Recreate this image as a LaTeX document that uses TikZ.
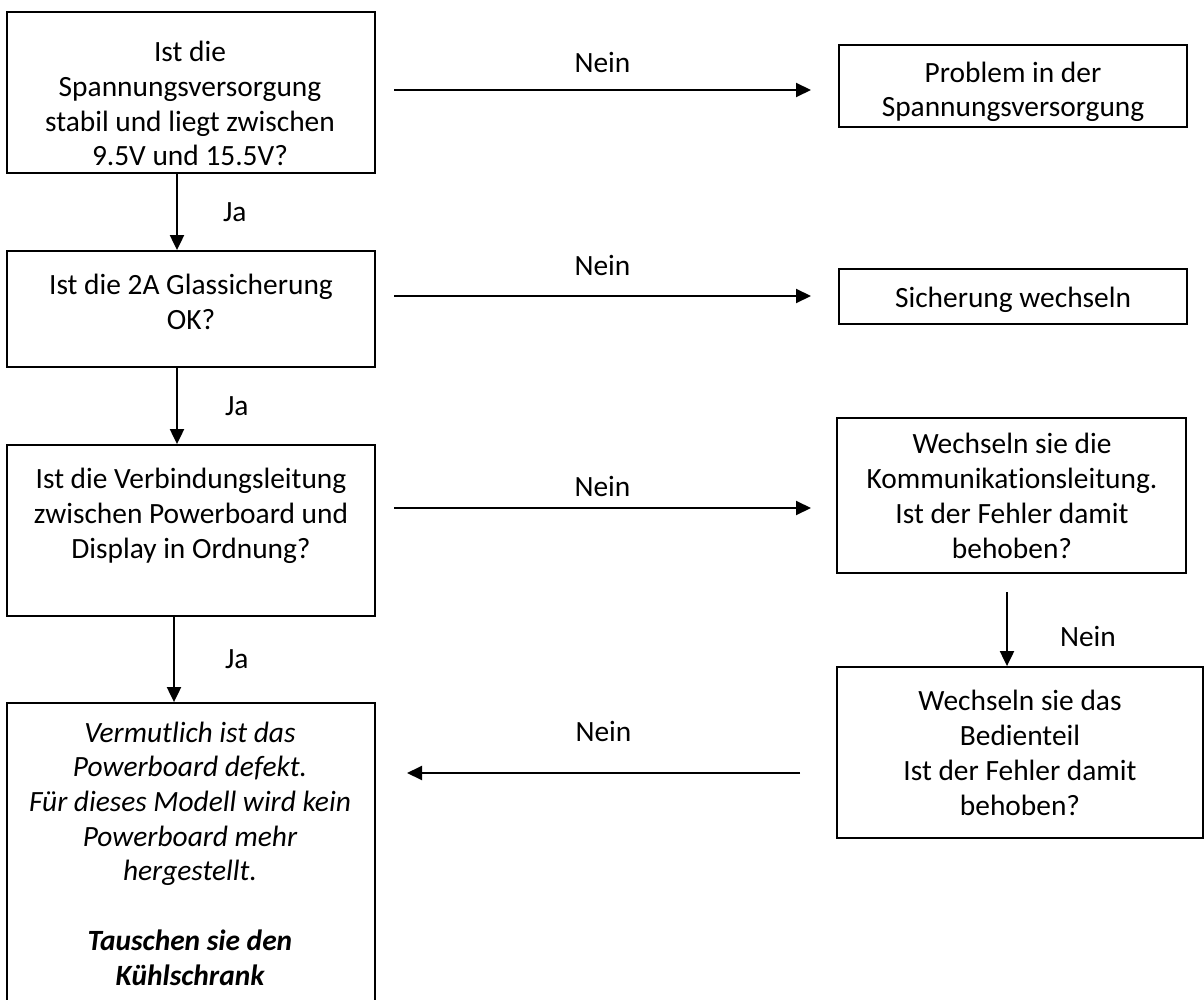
\documentclass[tikz,border=0pt]{standalone}
\usepackage{fontspec}
\setmainfont{Carlito}[Ligatures=NoCommon]
\usetikzlibrary{arrows.meta,positioning,calc}

\begin{document}
\begin{tikzpicture}[x=1pt,y=-1pt,>={Triangle[length=15pt,width=14pt]},
    box/.style={draw,line width=1.8pt,inner sep=0pt},
    txt/.style={align=center,inner sep=0pt,anchor=base,font=\fontsize{29.4}{34.7}\selectfont},
    lbl/.style={inner sep=0pt,font=\fontsize{29.4}{34.7}\selectfont},
    arr/.style={->,line width=2pt}]
    \useasboundingbox (0,0) rectangle (1204,1000);

    % left column
    \node[box, minimum width=367.5pt, minimum height=161pt] (b1) at (191,92.5) {};
    \node[box, minimum width=367.5pt, minimum height=116pt] (b2) at (191,309) {};
    \node[box, minimum width=367.5pt, minimum height=171pt] (b3) at (191,530.5) {};
    \node[box, minimum width=367.5pt, minimum height=304pt] (b4) at (191,855) {};

    % right column
    \node[box, minimum width=348pt, minimum height=82pt]  (r1) at (1013,86) {};
    \node[box, minimum width=348pt, minimum height=55pt]  (r2) at (1013,296.5) {};
    \node[box, minimum width=349pt, minimum height=155pt] (r3) at (1011.5,495.5) {};
    \node[box, minimum width=366pt, minimum height=171pt] (r4) at (1020,752.5) {};

    % texts (anchored at the baseline of the last line)
    \node[txt] (b1t) at (190,166) {Ist die\\Spannungsversorgung\\stabil und liegt zwischen\\9.5V und 15.5V?};
    \node[txt] (b2t) at (191,329) {Ist die 2A Glassicherung\\OK?};
    \node[txt] (b3t) at (191,558) {Ist die Verbindungsleitung\\zwischen Powerboard und\\Display in Ordnung?};
    \node[txt] (b4t) at (190,985) {\itshape Vermutlich ist das\\\itshape Powerboard defekt.\\\itshape Für dieses Modell wird kein\\\itshape Powerboard mehr\\\itshape hergestellt.\\[34.7pt]\bfseries\itshape Tauschen sie den\\\bfseries\itshape Kühlschrank};
    \node[txt] (r1t) at (1013,117) {Problem in der\\Spannungsversorgung};
    \node[txt] (r2t) at (1013,307) {Sicherung wechseln};
    \node[txt] (r3t) at (1012,558) {Wechseln sie die\\Kommunikationsleitung.\\Ist der Fehler damit\\behoben?};
    \node[txt] (r4t) at (1020,815) {Wechseln sie das\\Bedienteil\\Ist der Fehler damit\\behoben?};

    % free ends of the Nein arrows
    \coordinate (n1a) at (394,90);  \coordinate (n1b) at (811,90);
    \coordinate (n2a) at (394,296); \coordinate (n2b) at (811,296);
    \coordinate (n3a) at (394,508); \coordinate (n3b) at (811,508);
    \coordinate (n4a) at (800,773); \coordinate (n4b) at (407,773);
    \coordinate (r3d) at (1007,592);

    \draw[arr] (n1a) -- node[lbl, above=16pt] {Nein} (n1b);
    \draw[arr] (n2a) -- node[lbl, above=19pt] {Nein} (n2b);
    \draw[arr] (n3a) -- node[lbl, above=10pt] {Nein} (n3b);
    \draw[arr] (n4a) -- node[lbl, above=30pt] {Nein} (n4b);

    \draw[arr] ([xshift=-14pt]b1.south) -- node[lbl, right=45pt] {Ja} ([xshift=-14pt]b2.north);
    \draw[arr] ([xshift=-14pt]b2.south) -- node[lbl, right=47pt] {Ja} ([xshift=-14pt]b3.north);
    \draw[arr] ([xshift=-17pt]b3.south) -- node[lbl, right=50pt] {Ja} ([xshift=-17pt]b4.north);
    \draw[arr] (r3d) -- node[lbl, right=52pt, pos=0.6] {Nein} (r3d |- r4.north);
\end{tikzpicture}
\end{document}
